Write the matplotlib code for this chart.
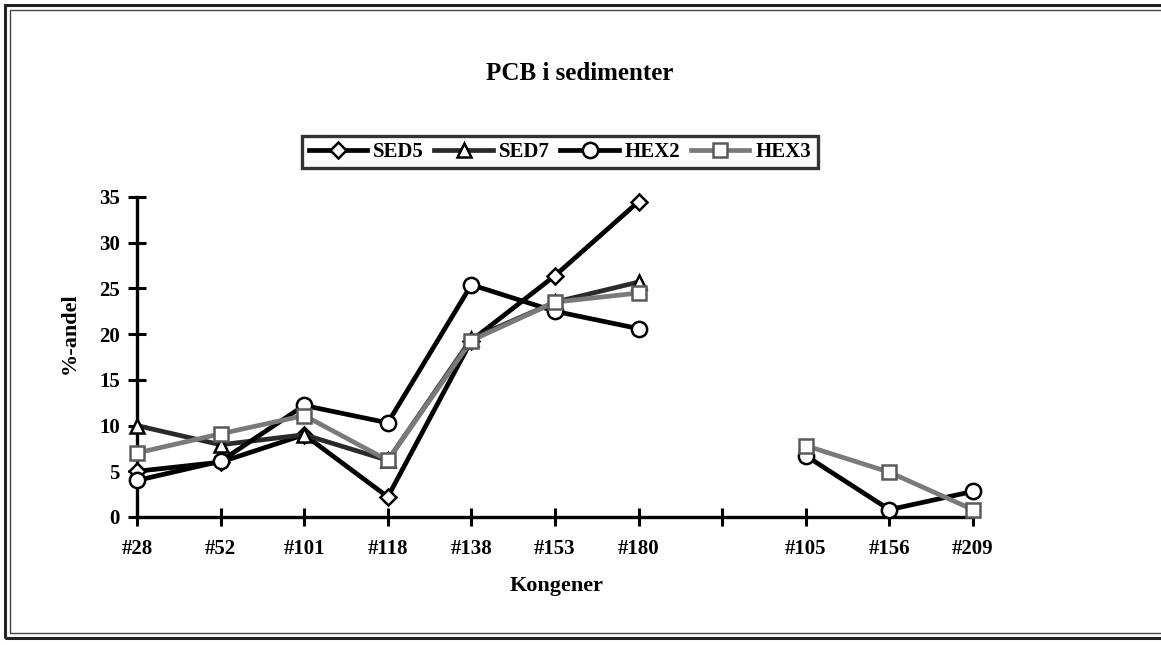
import numpy as np
import matplotlib
matplotlib.use("Agg")
import matplotlib.pyplot as plt
from matplotlib.patches import Rectangle

categories = ["#28", "#52", "#101", "#118", "#138", "#153", "#180", "", "#105", "#156", "#209"]
nan = np.nan
sed5 = [5.0, 6.0, 9.0, 2.2, 19.3, 26.4, 34.5, nan, nan, nan, nan]
sed7 = [10.0, 7.9, 9.0, 6.2, 19.5, 23.5, 25.7, nan, nan, nan, nan]
hex2 = [4.0, 6.1, 12.2, 10.3, 25.4, 22.5, 20.6, nan, 6.7, 0.8, 2.8]
hex3 = [7.0, 9.1, 11.1, 6.2, 19.3, 23.5, 24.5, nan, 7.8, 4.9, 0.8]
yticks = [0, 5, 10, 15, 20, 25, 30, 35]

plt.rcParams['font.family'] = ['Liberation Serif', 'DejaVu Serif']
plt.rcParams['font.weight'] = 'bold'

W, H = 1161, 645
fig = plt.figure(figsize=(W / 100, H / 100), dpi=100)

def fx(px):
    return px / W

def fy(py):
    return 1 - py / H

# Outer double frame
fig.patches.append(Rectangle((fx(5), fy(638)), fx(1200) - fx(5), fy(5) - fy(638),
                             transform=fig.transFigure, fill=False, lw=2.2, ec='#222222'))
fig.patches.append(Rectangle((fx(10), fy(633)), fx(1200) - fx(10), fy(10) - fy(633),
                             transform=fig.transFigure, fill=False, lw=1.0, ec='#444444'))

ax = fig.add_axes([fx(137), fy(517), fx(973) - fx(137), fy(197) - fy(517)])
x = np.arange(len(categories))

base = dict(lw=3.4, mfc='white', mew=1.8, clip_on=False, zorder=3)
ax.plot(x, sed5, color='black', marker='D', ms=8.5, mec='black', label='SED5', **base)
ax.plot(x, sed7, color='#2a2a2a', marker='^', ms=10, mec='black', label='SED7', **base)
ax.plot(x, hex2, color='black', marker='o', ms=11, mec='black', label='HEX2', **base)
ax.plot(x, hex3, color='#7a7a7a', marker='s', ms=10.5, mec='#5a5a5a', label='HEX3', **base)

ax.set_xlim(0, 10)
ax.set_ylim(0, 35)
ax.set_xticks(x)
ax.set_xticklabels(categories, fontsize=15, fontweight='bold')
ax.set_yticks(yticks)
ax.set_yticklabels([str(t) for t in yticks], fontsize=15, fontweight='bold')
for s in ['top', 'right']:
    ax.spines[s].set_visible(False)
for s in ['left', 'bottom']:
    ax.spines[s].set_linewidth(2.4)
ax.tick_params(axis='both', direction='inout', length=13, width=2.2, color='black')
ax.tick_params(axis='x', pad=9)
ax.tick_params(axis='y', pad=6)

fig.text(fx(580), fy(74), "PCB i sedimenter", ha='center', va='center',
         fontsize=18, fontweight='bold')
fig.text(fx(557), fy(586), "Kongener", ha='center', va='center',
         fontsize=16, fontweight='bold')
fig.text(fx(70), fy(333), "%-andel", ha='center', va='center', rotation=90,
         fontsize=16, fontweight='bold')

leg = fig.legend(loc='center', bbox_to_anchor=(fx(560), fy(152)), ncol=4,
                 frameon=True, fancybox=False, handlelength=2.8,
                 handletextpad=0.3, columnspacing=0.5, borderpad=0.3,
                 prop={'weight': 'bold', 'size': 15})
leg.get_frame().set_edgecolor('black')
leg.get_frame().set_linewidth(2.4)

fig.savefig("out.png", dpi=100)
